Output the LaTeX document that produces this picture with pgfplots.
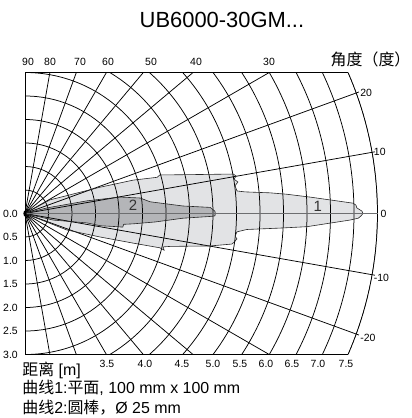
\documentclass[border=0pt]{standalone}
\usepackage{pgfplots}
\pgfplotsset{compat=1.18}
\usepackage{pgfplotstable}
\usepackage{fontspec}
\setmainfont{Liberation Sans}
\newfontfamily\cjk{Noto Sans CJK SC}
\definecolor{lightfill}{HTML}{E2E3E5}
\definecolor{darkfill}{HTML}{B4B5B8}
\definecolor{zeroline}{HTML}{6D6E70}

% Curve 1: plate 100 mm x 100 mm
\pgfplotstableread{
x y
0 0
0.53 0.29
1.60 0.56
2.30 0.71
2.81 0.77
2.87 0.82
3.72 0.83
4.43 0.84
4.49 0.80
4.45 0.73
4.53 0.67
4.47 0.59
4.51 0.48
4.68 0.46
5.21 0.44
5.57 0.41
6.06 0.35
6.98 0.22
7.04 0.18
7.06 0.12
7.17 0.05
7.19 0
7.15 -0.05
7.09 -0.10
6.91 -0.14
6.00 -0.28
5.43 -0.31
4.72 -0.34
4.51 -0.39
4.47 -0.48
4.51 -0.54
4.45 -0.61
4.40 -0.65
3.94 -0.69
3.09 -0.70
2.94 -0.71
2.96 -0.78
2.87 -0.73
2.30 -0.63
1.60 -0.50
0.89 -0.35
0 0
}\curveone

% Curve 2: rod, diameter 25 mm
\pgfplotstableread{
x y
0 0
0.47 0.12
1.32 0.27
2.02 0.35
2.45 0.33
2.66 0.25
3.36 0.16
3.94 0.13
4.04 0.05
4.05 0
4.04 -0.05
3.98 -0.06
3.36 -0.10
2.77 -0.18
2.30 -0.22
2.10 -0.23
2.08 -0.29
1.96 -0.28
1.60 -0.26
1.32 -0.20
0.60 -0.14
0 0
}\curvetwo

\begin{document}
\begin{tikzpicture}
\begin{axis}[
  scale only axis, width=412bp, height=418bp,
  xmin=-0.532, xmax=8.234, ymin=-4.351, ymax=4.543,
  axis lines=none, clip=false,
]
\path (axis cs:-0.532,-4.351) rectangle (axis cs:8.234,4.543);

% fills
\addplot[draw=none, fill=lightfill] table {\curveone};
\addplot[draw=none, fill=darkfill] table {\curvetwo};

% grid
\begin{scope}
\clip (axis cs:0,-3) rectangle (axis cs:7.5,3);
\clip (axis cs:0,0) circle[radius=352.5bp];
\pgfplotsinvokeforeach{0.5,1.0,...,7.5}{
  \draw[black, line width=0.75bp] (axis cs:0,0) circle[radius=#1*47bp];
}
\pgfplotsinvokeforeach{-80,-70,...,80}{
  \draw[black, line width=0.75bp] (axis cs:0,0) -- (axis cs:{7.5*cos(#1)},{7.5*sin(#1)});
}
\end{scope}
% frame
\draw[black, line width=0.75bp] (axis cs:6.874,3) -- (axis cs:0,3) -- (axis cs:0,-3) -- (axis cs:6.874,-3);
\draw[black, line width=0.75bp] (axis cs:0,0) ++(-23.58:352.5bp) arc[start angle=-23.58, end angle=23.58, radius=352.5bp];
% short ticks at the arc
\pgfplotsinvokeforeach{-20,-10,10,20}{
  \draw[black, line width=0.75bp] (axis cs:{7.5*cos(#1)},{7.5*sin(#1)}) -- (axis cs:{7.56*cos(#1)},{7.56*sin(#1)});
}

% outlines
\addplot[draw=black!85, line width=0.6bp] table {\curveone};
\addplot[draw=black!85, line width=0.6bp] table {\curvetwo};

% zero line
\draw[zeroline, line width=1.5bp] (axis cs:0,0) -- (axis cs:7.5,0);
\fill[black] (axis cs:0,0) ellipse[x radius=1.6bp, y radius=3bp];

% curve numbers
\node[font=\fontsize{15}{16}\selectfont, text=black!80] at (axis cs:6.23,0.15) {1};
\node[font=\fontsize{15}{16}\selectfont, text=black!80] at (axis cs:2.30,0.18) {2};

% left labels
\foreach \v/\t in {0/0.0, 0.5/0.5, 1/1.0, 1.5/1.5, 2/2.0, 2.5/2.5, 3/3.0}{
  \edef\tmp{\noexpand\node[anchor=east, font=\noexpand\fontsize{10.5}{12}\noexpand\selectfont, inner sep=0pt] at (axis cs:-0.15,-\v) {\t};}
  \tmp
}
% top labels (angles)
\foreach \px/\t in {28/90, 50/80, 80/70, 108/60, 151/50, 196/40, 269/30}{
  \pgfmathsetmacro{\xx}{(\px-25)/47}
  \edef\tmp{\noexpand\node[font=\noexpand\fontsize{10.5}{12}\noexpand\selectfont, inner sep=0pt] at (axis cs:\xx,3.23) {\t};}
  \tmp
}
% bottom labels (distance)
\foreach \px/\t in {107/3.5, 145/4.0, 182/4.5, 213/5.0, 240/5.5, 266/6.0, 292/6.5, 318/7.0, 346/7.5}{
  \pgfmathsetmacro{\xx}{(\px-25)/47}
  \edef\tmp{\noexpand\node[font=\noexpand\fontsize{10.5}{12}\noexpand\selectfont, inner sep=0pt] at (axis cs:\xx,-3.21) {\t};}
  \tmp
}
% right labels
\node[anchor=west, font=\fontsize{10.5}{12}\selectfont, inner sep=0pt] at (axis cs:7.13,2.57) {20};
\node[anchor=west, font=\fontsize{10.5}{12}\selectfont, inner sep=0pt] at (axis cs:7.42,1.31) {10};
\node[anchor=west, font=\fontsize{10.5}{12}\selectfont, inner sep=0pt] at (axis cs:7.56,0) {0};
\node[anchor=west, font=\fontsize{10.5}{12}\selectfont, inner sep=0pt] at (axis cs:7.42,-1.36) {-10};
\node[anchor=west, font=\fontsize{10.5}{12}\selectfont, inner sep=0pt] at (axis cs:7.13,-2.64) {-20};

% titles
\node[font=\fontsize{22}{24}\selectfont, inner sep=0pt] at (axis cs:4.19,4.11) {UB6000-30GM...};
\node[anchor=west, font=\fontsize{16}{18}\selectfont, inner sep=0pt] at (axis cs:6.50,3.27) {{\cjk 角度（度）}};
\node[anchor=west, font=\fontsize{16}{18}\selectfont, inner sep=0pt] at (axis cs:-0.06,-3.33) {{\cjk 距离} [m]};
\node[anchor=west, font=\fontsize{16}{18}\selectfont, inner sep=0pt] at (axis cs:-0.06,-3.70) {{\cjk 曲线}1:{\cjk 平面}, 100 mm x 100 mm};
\node[anchor=west, font=\fontsize{16}{18}\selectfont, inner sep=0pt] at (axis cs:-0.06,-4.12) {{\cjk 曲线}2:{\cjk 圆棒，}Ø 25 mm};
\end{axis}
\end{tikzpicture}
\end{document}
